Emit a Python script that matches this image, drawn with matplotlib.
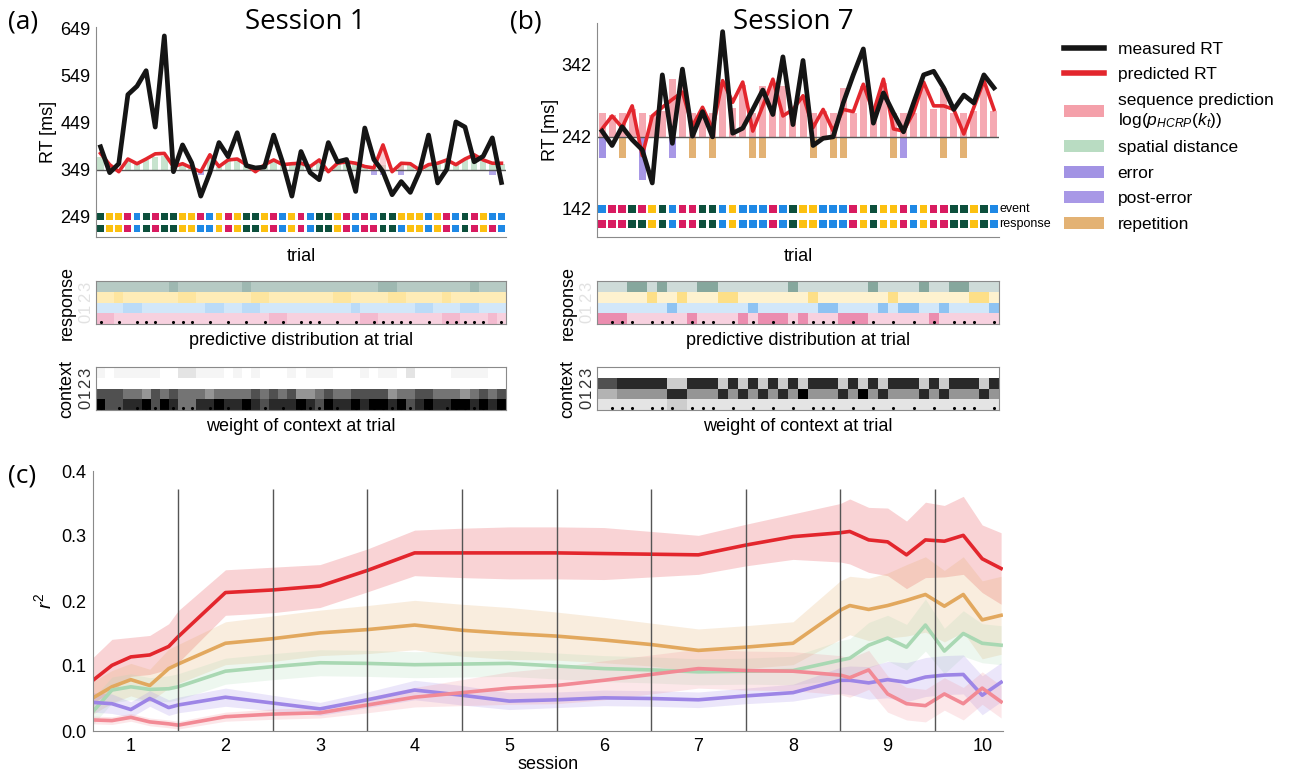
import numpy as np
import matplotlib
matplotlib.use('Agg')
import matplotlib.pyplot as plt
from matplotlib.patches import Patch
from matplotlib.lines import Line2D

plt.rcParams['font.family'] = ['Liberation Sans', 'DejaVu Sans']
plt.rcParams['mathtext.fontset'] = 'custom'
plt.rcParams['mathtext.rm'] = 'Liberation Sans'
plt.rcParams['mathtext.it'] = 'Liberation Sans:italic'

# ---------------- data: session 1 ----------------
s1_measured = [398, 343, 362, 509, 527, 560, 440, 634, 345, 402, 364, 293, 343, 407, 377,
               428, 358, 353, 355, 423, 364, 293, 388, 343, 328, 407, 366, 371, 303, 438,
               371, 345, 296, 324, 301, 345, 423, 321, 350, 451, 440, 366, 378, 417, 322]
s1_predicted = [384, 360, 345, 372, 362, 372, 383, 384, 356, 362, 353, 345, 381, 356, 370,
                372, 360, 345, 360, 370, 360, 362, 363, 356, 370, 345, 363, 366, 363, 356,
                353, 402, 345, 363, 362, 349, 360, 363, 370, 360, 372, 381, 370, 363, 363]
s1_spatial = [28, 10, 0, 20, 12, 20, 28, 30, 6, 12, 4, 0, 25, 6, 18, 20, 10, 0, 10, 18, 10, 12,
              12, 6, 18, 0, 12, 15, 12, 6, 4, 10, 0, 12, 12, 0, 10, 12, 18, 10, 20, 28, 18, 12, 12]
s1_seq_trials = [31, 33]
s1_seq_height = [40, 14]
s1_error_trials = [11, 30, 31, 33, 43]
s1_events = "gyymbgmggyymbymyggymbymbggymbmbggyyybymbgmybb"
s1_responses = "gyymbgmggyybbymyggymbymbggymbmmggbyybymbgmymb"
s1_dots = [0, 2, 4, 5, 6, 8, 9, 10, 12, 14, 16, 18, 20, 22, 23, 24, 26, 28, 30, 31, 32, 33,
           34, 36, 38, 39, 40, 41, 42, 44]
# predictive distribution (intensity /10), rows 0..3
s1_pred_rows = ["33222 22222 22222 22223 32222 22223 32222 22233 22232",
                "22233 22222 22332 23322 22222 22232 22222 33222 33222",
                "33433 33334 43333 33443 33333 34433 33443 33343 33333",
                "33333 33343 33333 34333 33333 33333 34433 33333 34333"]
# context weight (darkness 0..9), rows 0..3
s1_ctx_rows = ["97788 97986 68898 89878 88987 98898 99897 89889 98989",
               "77766 57676 66566 66767 67556 76677 77566 77666 56767",
               "00000 00000 00000 00000 00000 00000 00000 00000 00000",
               "10111 11002 21110 10100 01011 10001 01102 00001 11100"]

# ---------------- data: session 7 ----------------
s7_measured = [250, 230, 256, 238, 224, 178, 328, 233, 336, 243, 277, 242, 388, 247, 254,
               280, 307, 273, 353, 259, 348, 230, 240, 242, 289, 328, 364, 261, 303, 275,
               249, 289, 328, 333, 310, 280, 300, 289, 328, 310]
s7_predicted = [253, 271, 255, 285, 216, 271, 283, 294, 304, 257, 283, 253, 320, 290, 318,
                250, 285, 322, 271, 280, 299, 255, 280, 250, 280, 277, 315, 276, 322, 253,
                250, 276, 318, 285, 285, 280, 246, 283, 320, 280]
s7_sequence = [33, 30, 33, 38, 33, 30, 36, 80, 78, 33, 36, 33, 76, 40, 72, 33, 70, 75, 70, 36,
               55, 33, 36, 33, 68, 33, 70, 33, 75, 33, 33, 33, 72, 38, 68, 33, 33, 36, 74, 36]
s7_rep_trials = [2, 9, 11, 15, 16, 21, 23, 24, 29, 34, 36]
s7_error_trials = [0, 4]
s7_posterr_trials = [4, 7, 30]
s7_events = "bmmgmygbmmggbybbbmbgyybbbmygyymbymmggygb"
s7_responses = "mmmggygbmmggbybbbmbgyybbbmygyymbymmggygb"
s7_dots = [1, 2, 3, 5, 6, 7, 9, 10, 11, 13, 15, 17, 19, 21, 22, 23, 25, 27, 29, 31, 33, 35,
           36, 37, 39]
s7_pred_rows = ["55522 22225 22225 25552 52225 55222 22252 22222",
                "22222 22522 22222 52222 22552 22252 55225 22225",
                "22222 52252 22552 22222 25222 22225 22222 22552",
                "22255 25222 55222 22225 22222 22522 22522 55222"]
s7_ctx_rows = ["22222 22332 22222 22222 22222 22222 22222 22222",
               "44555 55885 55858 58585 95558 59585 55858 55585",
               "77888 88338 88383 83838 38883 83838 88383 88838",
               "00000 00000 00000 00000 00000 00000 00000 00000"]

# ---------------- data: panel c ----------------
session_x = [0.6, 0.8, 1.0, 1.2, 1.4, 1.5, 2.0, 2.5, 3.0, 3.5, 4.0, 4.5, 5.0, 5.5, 6.0,
             6.5, 7.0, 7.5, 8.0, 8.5, 8.6, 8.8, 9.0, 9.2, 9.4, 9.6, 9.8, 10.0, 10.2]
r2_predicted = [0.078, 0.101, 0.114, 0.117, 0.130, 0.145, 0.213, 0.217, 0.223, 0.247, 0.274,
                0.274, 0.274, 0.274, 0.273, 0.272, 0.271, 0.286, 0.299, 0.305, 0.307, 0.294,
                0.291, 0.271, 0.294, 0.292, 0.301, 0.265, 0.250]
r2_predicted_err = [0.035, 0.04, 0.03, 0.03, 0.035, 0.04, 0.035, 0.035, 0.033, 0.033, 0.035,
                    0.038, 0.04, 0.04, 0.04, 0.035, 0.03, 0.032, 0.035, 0.045, 0.05, 0.05,
                    0.052, 0.052, 0.058, 0.055, 0.06, 0.052, 0.055]
r2_repetition = [0.051, 0.068, 0.079, 0.070, 0.096, 0.103, 0.135, 0.142, 0.151, 0.156, 0.163,
                 0.155, 0.150, 0.146, 0.140, 0.133, 0.124, 0.129, 0.135, 0.186, 0.193, 0.187,
                 0.193, 0.201, 0.210, 0.192, 0.210, 0.171, 0.178]
r2_repetition_err = [0.025, 0.025, 0.025, 0.025, 0.03, 0.03, 0.033, 0.035, 0.035, 0.037, 0.038,
                     0.04, 0.04, 0.037, 0.035, 0.033, 0.033, 0.033, 0.033, 0.045, 0.045, 0.048,
                     0.05, 0.055, 0.058, 0.055, 0.058, 0.06, 0.06]
r2_spatial = [0.030, 0.063, 0.068, 0.064, 0.065, 0.068, 0.092, 0.099, 0.105, 0.104, 0.102,
              0.103, 0.104, 0.100, 0.096, 0.094, 0.091, 0.092, 0.093, 0.109, 0.112, 0.132,
              0.143, 0.129, 0.163, 0.123, 0.150, 0.135, 0.132]
r2_spatial_err = [0.02, 0.02, 0.02, 0.018, 0.02, 0.02, 0.02, 0.02, 0.02, 0.02, 0.02, 0.02,
                  0.02, 0.02, 0.02, 0.02, 0.02, 0.02, 0.022, 0.03, 0.03, 0.035, 0.035, 0.035,
                  0.04, 0.035, 0.035, 0.03, 0.03]
r2_error = [0.044, 0.042, 0.033, 0.050, 0.036, 0.040, 0.052, 0.043, 0.034, 0.048, 0.063,
            0.055, 0.046, 0.048, 0.051, 0.050, 0.048, 0.054, 0.059, 0.078, 0.078, 0.074,
            0.079, 0.075, 0.083, 0.086, 0.087, 0.055, 0.075]
r2_error_err = [0.015, 0.015, 0.012, 0.012, 0.012, 0.012, 0.014, 0.012, 0.01, 0.012, 0.015,
                0.015, 0.013, 0.012, 0.012, 0.012, 0.012, 0.012, 0.013, 0.02, 0.022, 0.025,
                0.028, 0.03, 0.03, 0.03, 0.03, 0.03, 0.03]
r2_sequence = [0.017, 0.016, 0.021, 0.014, 0.011, 0.009, 0.022, 0.026, 0.028, 0.040, 0.052,
               0.059, 0.066, 0.070, 0.078, 0.087, 0.096, 0.093, 0.092, 0.086, 0.082, 0.094,
               0.057, 0.042, 0.039, 0.057, 0.042, 0.066, 0.045]
r2_sequence_err = [0.006, 0.006, 0.006, 0.006, 0.006, 0.006, 0.007, 0.008, 0.008, 0.012,
                   0.015, 0.02, 0.025, 0.028, 0.03, 0.03, 0.03, 0.03, 0.03, 0.03, 0.03, 0.03,
                   0.028, 0.025, 0.025, 0.025, 0.025, 0.025, 0.025]

# ---------------- style ----------------
BLACK = '#151515'
RED = '#e3262d'
PINK = '#f4a0aa'
GREEN = '#b9dcc2'
PURPLE = '#a293e4'
POSTERR = '#a898e6'
ORANGE = '#e3b274'
SPINE = '#8a8a8a'
SQ = {'g': '#0d4f3c', 'y': '#fcc010', 'm': '#d81b60', 'b': '#1e88e5'}
HEAT_BASE = ['#d81b60', '#1e88e5', '#fcc010', '#0d4f3c']

W, H = 1302, 776
fig = plt.figure(figsize=(W / 100, H / 100), dpi=100)


def px_axes(l, t, r, b):
    return fig.add_axes([l / W, 1 - b / H, (r - l) / W, (b - t) / H])


def rows_to_array(rows):
    return np.array([[int(c) for c in r.replace(' ', '')] for r in rows], dtype=float)


def rt_panel(ax, measured, predicted, base, ylim, ticks, events, responses, sq_y, sq_s):
    n = len(measured)
    x = np.arange(n)
    ax.set_xlim(-0.5, n - 0.5)
    ax.set_ylim(*ylim)
    ax.axhline(base, color='#555555', lw=1, zorder=2)
    ax.plot(x, predicted, color=RED, lw=2.6, zorder=3)
    ax.plot(x, measured, color=BLACK, lw=3.4, zorder=4)
    ax.scatter(x, [sq_y[0]] * n, c=[SQ[c] for c in events], marker='s', s=sq_s, lw=0)
    ax.scatter(x, [sq_y[1]] * n, c=[SQ[c] for c in responses], marker='s', s=sq_s, lw=0)
    ax.set_yticks(ticks)
    ax.set_xticks([])
    ax.tick_params(length=0, labelsize=13, pad=4)
    for s in ['top', 'right']:
        ax.spines[s].set_visible(False)
    for s in ['left', 'bottom']:
        ax.spines[s].set_color(SPINE)
    ax.set_xlabel('trial', fontsize=13, labelpad=8)
    ax.set_ylabel('RT [ms]', fontsize=13, labelpad=2)


def heat_panel(ax, rgb, dots, ylabel, xlabel, tickcolor):
    n = rgb.shape[1]
    ax.imshow(rgb, aspect='auto', origin='lower', interpolation='nearest',
              extent=(-0.5, n - 0.5, -0.5, 3.5))
    ax.scatter(dots, [-0.32] * len(dots), s=5, c='k', lw=0, zorder=3)
    ax.set_xlim(-0.5, n - 0.5)
    ax.set_ylim(-0.5, 3.5)
    ax.set_xticks([])
    ax.set_yticks(range(4))
    ax.set_yticklabels(['0', '1', '2', '3'], rotation=90, va='center', color=tickcolor)
    ax.tick_params(length=0, labelsize=12, pad=2)
    for s in ax.spines.values():
        s.set_color(SPINE)
    ax.set_ylabel(ylabel, fontsize=13, labelpad=2)
    ax.set_xlabel(xlabel, fontsize=13, labelpad=6)


def pred_rgb(rows):
    p = rows_to_array(rows) / 10.0
    out = np.ones(p.shape + (3,))
    for r in range(4):
        c = np.array(matplotlib.colors.to_rgb(HEAT_BASE[r]))
        out[r] = 1 - p[r][:, None] * (1 - c)
    return out


def ctx_rgb(rows):
    d = rows_to_array(rows) / 9.0
    g = np.clip(1 - d ** 1.5, 0, 1)
    return np.stack([g, g, g], axis=-1)


# ---------------- panel a ----------------
ax_a = px_axes(96, 27, 506, 237)
x1 = np.arange(len(s1_measured))
ax_a.bar(x1, s1_spatial, bottom=349, width=0.7, color=GREEN, alpha=0.8, zorder=1)
ax_a.bar(s1_seq_trials, s1_seq_height, bottom=349, width=0.7, color=PINK, alpha=0.5, zorder=1)
ax_a.bar(s1_error_trials, [-12] * len(s1_error_trials), bottom=349, width=0.7,
         color=PURPLE, alpha=0.8, zorder=1)
rt_panel(ax_a, s1_measured, s1_predicted, 349, (206, 653), [249, 349, 449, 549, 649],
         s1_events, s1_responses, (249, 223.5), 24)

ax_a2 = px_axes(96, 281, 506, 324)
heat_panel(ax_a2, pred_rgb(s1_pred_rows), s1_dots, 'response',
           'predictive distribution at trial', '#e2e2e2')
ax_a3 = px_axes(96, 367, 506, 410)
heat_panel(ax_a3, ctx_rgb(s1_ctx_rows), s1_dots, 'context',
           'weight of context at trial', '#333333')

# ---------------- panel b ----------------
ax_b = px_axes(597, 23, 999, 237)
x7 = np.arange(len(s7_measured))
ax_b.bar(x7, s7_sequence, bottom=242, width=0.7, color=PINK, alpha=0.9, zorder=1)
ax_b.bar(s7_rep_trials, [-30] * len(s7_rep_trials), bottom=242, width=0.7,
         color=ORANGE, zorder=1)
ax_b.bar(s7_error_trials, [-30] * len(s7_error_trials), bottom=242, width=0.7,
         color=PURPLE, zorder=1)
ax_b.bar(s7_posterr_trials, [-30] * len(s7_posterr_trials),
         bottom=[212 if t in s7_error_trials else 242 for t in s7_posterr_trials],
         width=0.7, color=POSTERR, zorder=1)
rt_panel(ax_b, s7_measured, s7_predicted, 242, (103, 400), [142, 242, 342],
         s7_events, s7_responses, (142, 121), 30)
ax_b.text(39.55, 142, 'event', fontsize=9, ha='left', va='center', clip_on=False)
ax_b.text(39.55, 121, 'response', fontsize=9, ha='left', va='center', clip_on=False)

ax_b2 = px_axes(597, 281, 999, 324)
heat_panel(ax_b2, pred_rgb(s7_pred_rows), s7_dots, 'response',
           'predictive distribution at trial', '#e2e2e2')
ax_b3 = px_axes(597, 367, 999, 410)
heat_panel(ax_b3, ctx_rgb(s7_ctx_rows), s7_dots, 'context',
           'weight of context at trial', '#333333')

# ---------------- panel c ----------------
ax_c = px_axes(93, 471, 1003, 731)
xs = np.array(session_x)
series = [(r2_predicted, r2_predicted_err, RED),
          (r2_repetition, r2_repetition_err, '#e2a85e'),
          (r2_spatial, r2_spatial_err, '#a9d8b3'),
          (r2_error, r2_error_err, '#9d85e6'),
          (r2_sequence, r2_sequence_err, '#f28a95')]
for m, e, c in series:
    m, e = np.array(m), np.array(e)
    ax_c.fill_between(xs, m - e, m + e, color=c, alpha=0.2, lw=0)
for m, e, c in series:
    ax_c.plot(xs, m, color=c, lw=2.6)
ax_c.vlines(np.arange(1.5, 10, 1), 0, 0.372, color='#555555', lw=1)
ax_c.set_xlim(0.6, 10.22)
ax_c.set_ylim(0, 0.4)
ax_c.set_xticks(range(1, 11))
ax_c.set_yticks([0, 0.1, 0.2, 0.3, 0.4])
ax_c.set_yticklabels(['0.0', '0.1', '0.2', '0.3', '0.4'])
ax_c.tick_params(length=0, labelsize=13, pad=5)
for s in ['top', 'right']:
    ax_c.spines[s].set_visible(False)
for s in ['left', 'bottom']:
    ax_c.spines[s].set_color(SPINE)
ax_c.set_xlabel('session', fontsize=13, labelpad=1)
ax_c.set_ylabel('$r^2$', fontsize=14, labelpad=4)

# ---------------- titles / panel letters ----------------
tfont = ['Open Sans', 'DejaVu Sans']
fig.text(305 / W, 1 - 22 / H, 'Session 1', fontsize=20, ha='center', va='center', family=tfont)
fig.text(793 / W, 1 - 22 / H, 'Session 7', fontsize=20, ha='center', va='center', family=tfont)
fig.text(8 / W, 1 - 22 / H, '(a)', fontsize=19, ha='left', va='center', family=tfont)
fig.text(510 / W, 1 - 22 / H, '(b)', fontsize=19, ha='left', va='center', family=tfont)
fig.text(8 / W, 1 - 476 / H, '(c)', fontsize=19, ha='left', va='center', family=tfont)

# ---------------- legend ----------------
handles = [Line2D([0], [0], color=BLACK, lw=4),
           Line2D([0], [0], color=RED, lw=4),
           Patch(facecolor=PINK),
           Patch(facecolor=GREEN),
           Patch(facecolor=PURPLE),
           Patch(facecolor=POSTERR),
           Patch(facecolor=ORANGE)]
labels = ['measured RT', 'predicted RT', 'sequence prediction\nlog($p_{HCRP}(k_t)$)',
          'spatial distance', 'error', 'post-error', 'repetition']
fig.legend(handles, labels, loc='upper left', bbox_to_anchor=(1055 / W, 1 - 33 / H),
           frameon=False, fontsize=12.5, handlelength=2.3, handletextpad=0.8,
           labelspacing=0.6, borderpad=0)

fig.savefig('out.png', dpi=100)
